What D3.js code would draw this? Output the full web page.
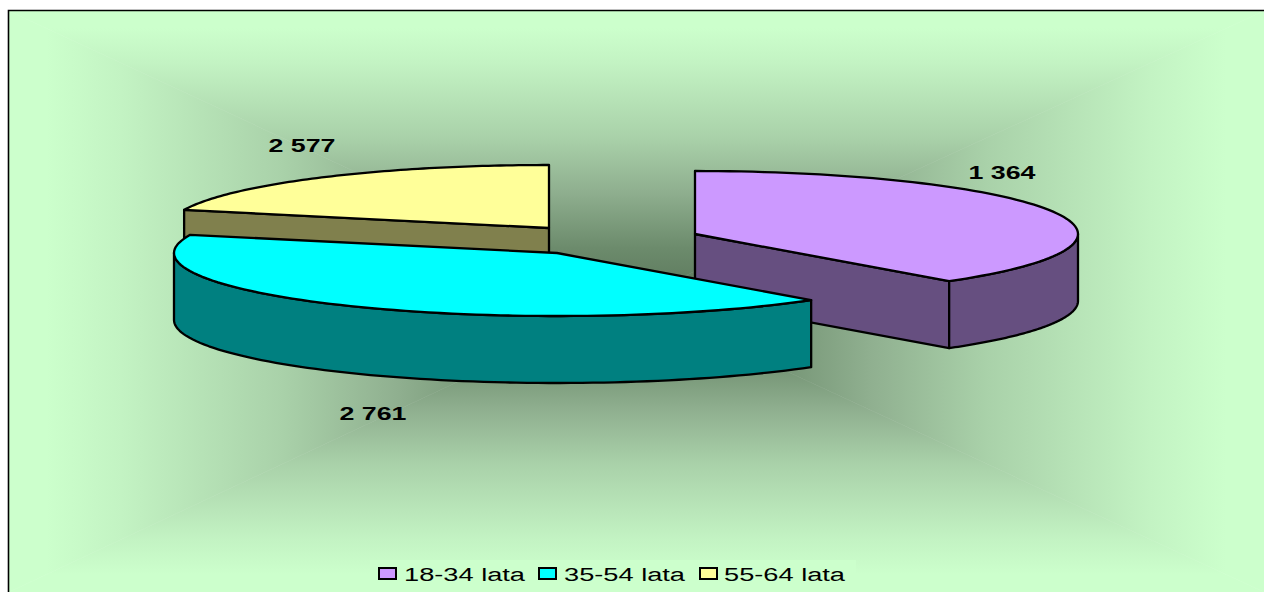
<!DOCTYPE html>
<html><head><meta charset="utf-8">
<script src="https://cdn.jsdelivr.net/npm/d3@7/dist/d3.min.js"></script>
<style>html,body{margin:0;padding:0;background:#fff;overflow:hidden}svg{display:block}text{font-family:"Liberation Sans",Arial,sans-serif;fill:#000}</style>
</head><body><svg id="c" width="1264" height="592"></svg>
<script>
const categories = ["18-34 lata","35-54 lata","55-64 lata"];
const labelValues = [1364,2761,2577];
const sliceValues = [2577,2761,1364];
const topColors = ["#CC99FF","#00FFFF","#FFFF99"];
const sideColors = ["#664F80","#008080","#80804D"];
const centers = [[695,234],[557,253],[549,228]];
const radiiX = [383,383,381];
const labelPos = [[1002,179],[373,420],[302,152]];
const legendText = [404,564,724];
const legendKey = [379,539,700];
const bgStops = [[0,"#CCFFCC"],[0.06,"#CCFFCC"],[0.18,"#C3F3C3"],[0.44,"#A9D1A9"],[0.62,"#90B090"],[0.82,"#6C8B6C"],[1,"#5A755A"]];
const ry = 63, depth = 67;

const svg = d3.select("#c");
const defs = svg.append("defs");
const L=9,T=11,R=1264,B=592, cx=632, cy=300;
const faces=[
 {id:"gT",pts:[[L,T],[R,T],[cx,cy]],from:[cx,T]},
 {id:"gB",pts:[[L,B],[R,B],[cx,cy]],from:[cx,B]},
 {id:"gL",pts:[[L,T],[L,B],[cx,cy]],from:[L,cy]},
 {id:"gR",pts:[[R,T],[R,B],[cx,cy]],from:[R,cy]}];
faces.forEach(f=>{
  const g=defs.append("linearGradient").attr("id",f.id).attr("gradientUnits","userSpaceOnUse")
    .attr("x1",f.from[0]).attr("y1",f.from[1]).attr("x2",cx).attr("y2",cy);
  bgStops.forEach(s=>g.append("stop").attr("offset",s[0]).attr("stop-color",s[1]));
  svg.append("polygon").attr("points",f.pts.join(" ")).attr("fill",`url(#${f.id})`)
    .attr("stroke",`url(#${f.id})`).attr("stroke-width",0.6);
});
svg.append("path").attr("d",`M${L-0.5},${B}V${T-0.5}H${R}`).attr("fill","none").attr("stroke","#000").attr("stroke-width",1.6);

const pie = d3.pie().sort(null).startAngle(0).endAngle(2*Math.PI)(sliceValues);
const line = d3.line();
const project=(i,a,dz=0)=>[centers[i][0]+radiiX[i]*Math.sin(a), centers[i][1]-ry*Math.cos(a)+dz];
const arcPts=(i,a0,a1,dz=0)=>d3.range(0,81).map(k=>project(i,a0+(a1-a0)*k/80,dz));
const sw=2.3;
function face(d,fill){svg.append("path").attr("d",d).attr("fill",fill).attr("stroke","#000").attr("stroke-width",sw).attr("stroke-linejoin","round");}
function outerSide(i,a0,a1){
  face(line(arcPts(i,a0,a1).concat(arcPts(i,a1,a0,depth)))+"Z",sideColors[i]);
}
function radial(i,a){
  const c=centers[i], p=project(i,a);
  face(line([c,p,[p[0],p[1]+depth],[c[0],c[1]+depth]])+"Z",sideColors[i]);
}
function topFace(i){
  const a=pie[i];
  face(line([centers[i]].concat(arcPts(i,a.startAngle,a.endAngle)))+"Z",topColors[i]);
}
// purple
radial(0,pie[0].endAngle);
outerSide(0,Math.PI/2,pie[0].endAngle);
topFace(0);
// yellow
radial(2,pie[2].startAngle);
topFace(2);
// cyan
outerSide(1,pie[1].startAngle,1.5*Math.PI);
topFace(1);

const fmt=v=>d3.format(",")(v).replace(",", " ");
labelValues.forEach((v,i)=>{
  svg.append("text").attr("x",labelPos[i][0]).attr("y",labelPos[i][1]).attr("text-anchor","middle")
    .attr("font-weight","bold").attr("font-size",19).attr("textLength",67).attr("lengthAdjust","spacingAndGlyphs").text(fmt(v));
});
svg.append("rect").attr("x",370).attr("y",560).attr("width",486).attr("height",32).attr("fill","#CCFFCC");
categories.forEach((t,i)=>{
  svg.append("rect").attr("x",legendKey[i]).attr("y",568).attr("width",17).attr("height",11)
    .attr("fill",topColors[i]).attr("stroke","#000").attr("stroke-width",2);
  svg.append("text").attr("x",legendText[i]).attr("y",581).attr("font-size",18)
    .attr("textLength",121).attr("lengthAdjust","spacingAndGlyphs").text(t);
});
</script></body></html>
